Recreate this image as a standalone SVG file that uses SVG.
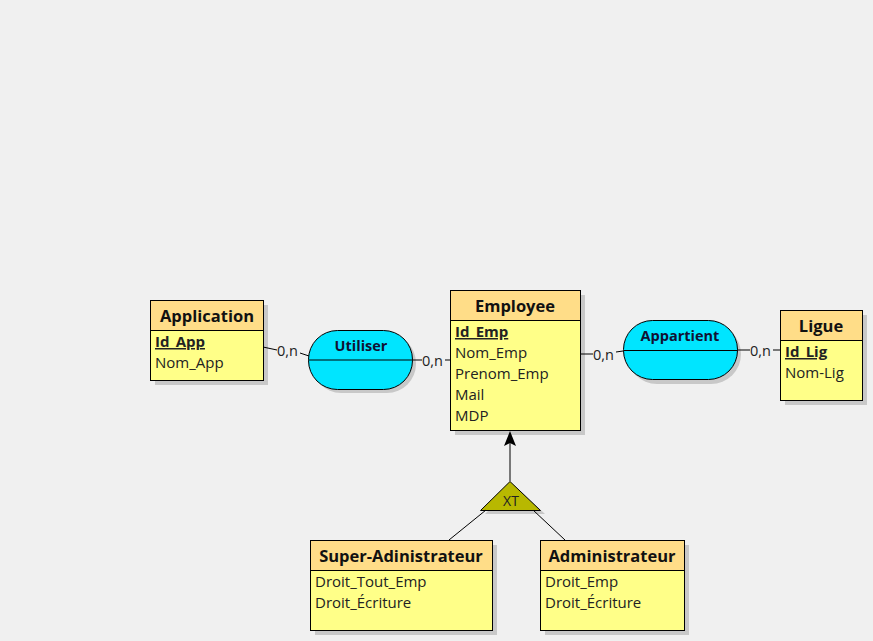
<svg xmlns="http://www.w3.org/2000/svg" width="873" height="641" viewBox="0 0 873 641">
<style>
.sh{fill:#c8c8c8}
.hd{fill:#FFDD88;stroke:#000;stroke-width:1}
.bd{fill:#FFFF88;stroke:#000;stroke-width:1}
.ttl{font-family:"Open Sans","Noto Sans",sans-serif;font-weight:bold;font-size:16.5px;fill:#111;text-anchor:middle}
.at{font-family:"Open Sans","Noto Sans",sans-serif;font-size:15px;fill:#222}
.id{font-weight:bold;text-decoration:underline}
.rel{fill:#00E5FF;stroke:#000;stroke-width:1}
.rt{font-family:"Open Sans","Noto Sans",sans-serif;font-weight:bold;font-size:14.5px;fill:#113;text-anchor:middle}
.card{font-family:"Open Sans","Noto Sans",sans-serif;font-size:14.5px;fill:#222}
.ln{stroke:#000;stroke-width:1;fill:none}
</style>
<rect width="873" height="641" fill="#F0F0F0"/>
<g id="Application">
<rect class="sh" x="155" y="305" width="113" height="80"/>
<rect class="bd" x="150.5" y="300.5" width="113" height="80"/>
<rect class="hd" x="150.5" y="300.5" width="113" height="30"/>
<text class="ttl" x="207" y="322">Application</text>
<text class="at id" x="155" y="347">Id_App</text>
<text class="at" x="155" y="368">Nom_App</text>
</g>
<g id="Employee">
<rect class="sh" x="455" y="295" width="130" height="140"/>
<rect class="bd" x="450.5" y="290.5" width="130" height="140"/>
<rect class="hd" x="450.5" y="290.5" width="130" height="30"/>
<text class="ttl" x="515" y="312">Employee</text>
<text class="at id" x="455" y="337">Id_Emp</text>
<text class="at" x="455" y="358">Nom_Emp</text>
<text class="at" x="455" y="379">Prenom_Emp</text>
<text class="at" x="455" y="400">Mail</text>
<text class="at" x="455" y="421">MDP</text>
</g>
<g id="Ligue">
<rect class="sh" x="785" y="315" width="82" height="90"/>
<rect class="bd" x="780.5" y="310.5" width="82" height="90"/>
<rect class="hd" x="780.5" y="310.5" width="82" height="30"/>
<text class="ttl" x="821" y="332">Ligue</text>
<text class="at id" x="785" y="357">Id_Lig</text>
<text class="at" x="785" y="378">Nom-Lig</text>
</g>
<g id="Super-Adinistrateur">
<rect class="sh" x="315" y="545" width="182" height="90"/>
<rect class="bd" x="310.5" y="540.5" width="182" height="90"/>
<rect class="hd" x="310.5" y="540.5" width="182" height="30"/>
<text class="ttl" x="401" y="562">Super-Adinistrateur</text>
<text class="at" x="315" y="587">Droit_Tout_Emp</text>
<text class="at" x="315" y="608">Droit_Écriture</text>
</g>
<g id="Administrateur">
<rect class="sh" x="545" y="545" width="144" height="90"/>
<rect class="bd" x="540.5" y="540.5" width="144" height="90"/>
<rect class="hd" x="540.5" y="540.5" width="144" height="30"/>
<text class="ttl" x="612" y="562">Administrateur</text>
<text class="at" x="545" y="587">Droit_Emp</text>
<text class="at" x="545" y="608">Droit_Écriture</text>
</g>
<g id="Utiliser">
<rect class="sh" x="312" y="334" width="104" height="59" rx="29" ry="29"/>
<rect class="rel" x="308.5" y="330.5" width="104" height="59" rx="29" ry="29"/>
<line class="ln" x1="308.5" y1="360" x2="412.5" y2="360"/>
<text class="rt" x="361" y="351">Utiliser</text>
</g>
<g id="Appartient">
<rect class="sh" x="627" y="324" width="114" height="60" rx="30" ry="30"/>
<rect class="rel" x="623.5" y="320.5" width="114" height="59" rx="29" ry="29"/>
<line class="ln" x1="623.5" y1="350.5" x2="737.5" y2="350.5"/>
<text class="rt" x="680" y="341">Appartient</text>
</g>
<g id="XT">
<polygon points="514,485 545,514 485,514" fill="#c8c8c8"/>
<polygon points="510,481.5 540.5,510.5 480.5,510.5" fill="#B8B800" stroke="#000" stroke-width="1"/>
<text x="511" y="506" font-family="Open Sans,Noto Sans,sans-serif" font-size="14px" fill="#222" text-anchor="middle">XT</text>
</g>
<g id="connectors">
<line class="ln" x1="263" y1="347" x2="277" y2="350"/>
<line class="ln" x1="300" y1="353" x2="309" y2="356"/>
<text class="card" x="277" y="356">0,n</text>
<line class="ln" x1="412" y1="360" x2="422" y2="360"/>
<line class="ln" x1="445" y1="360" x2="450" y2="360"/>
<text class="card" x="422" y="366">0,n</text>
<line class="ln" x1="580" y1="354" x2="593" y2="354"/>
<line class="ln" x1="616" y1="352" x2="623" y2="351"/>
<text class="card" x="593" y="360">0,n</text>
<line class="ln" x1="737" y1="350" x2="750" y2="350"/>
<line class="ln" x1="773" y1="350" x2="780" y2="350"/>
<text class="card" x="750" y="356">0,n</text>
<line class="ln" x1="510" y1="481" x2="510" y2="440"/>
<polygon points="510,431 504,446 510,443 516,446" fill="#000"/>
<line class="ln" x1="486" y1="510" x2="449" y2="540" stroke-width="0.8"/>
<line class="ln" x1="533" y1="510" x2="565" y2="540" stroke-width="0.8"/>
</g>
</svg>
